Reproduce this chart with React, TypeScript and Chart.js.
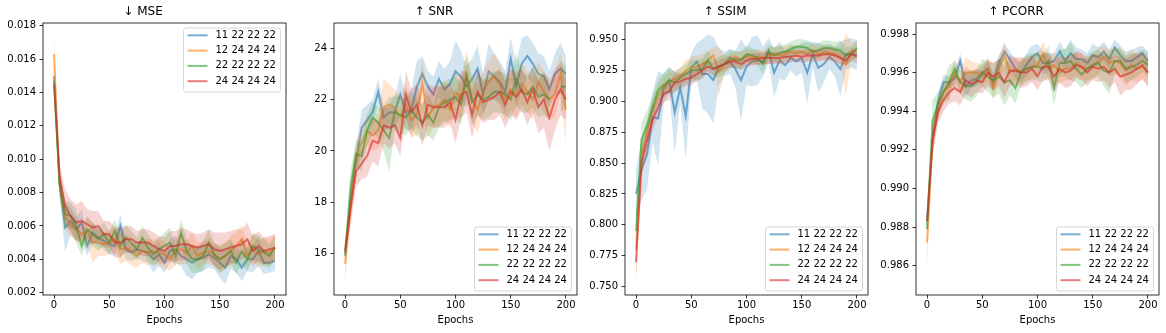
import React, { useEffect, useRef } from "react";
import { Chart, registerables } from "chart.js";
Chart.register(...registerables);

const EPOCHS = [0, 5, 10, 15, 20, 25, 30, 35, 40, 45, 50, 55, 60, 65, 70, 75, 80, 85, 90, 95, 100, 105, 110, 115, 120, 125, 130, 135, 140, 145, 150, 155, 160, 165, 170, 175, 180, 185, 190, 195, 200];
const LABELS = ["11 22 22 22", "12 24 24 24", "22 22 22 22", "24 24 24 24"];
const COLORS = ["31,119,180", "255,127,14", "44,160,44", "214,39,40"];
const X_TICKS = [0, 50, 100, 150, 200];

// ---------- MSE ----------
const MSE_TICKS = [0.002, 0.004, 0.006, 0.008, 0.010, 0.012, 0.014, 0.016, 0.018];
const MSE_A = [0.0150, 0.0085, 0.0059, 0.0063, 0.0058, 0.0062, 0.0048, 0.0056, 0.0053, 0.0051,
  0.0049, 0.0048, 0.0060, 0.0046, 0.0044, 0.0046, 0.0045, 0.0044, 0.0040, 0.0043,
  0.0038, 0.0045, 0.0046, 0.0042, 0.0040, 0.0038, 0.0040, 0.0041, 0.0043, 0.0041,
  0.0038, 0.0035, 0.0042, 0.0040, 0.0035, 0.0040, 0.0040, 0.0045, 0.0038, 0.0038, 0.0039];
const MSE_A_ERR = [0.0002, 0.0006, 0.0015, 0.0008, 0.0007, 0.0008, 0.0006, 0.0006, 0.0005, 0.0005,
  0.0006, 0.0006, 0.0007, 0.0006, 0.0005, 0.0005, 0.0006, 0.0006, 0.0008, 0.0007,
  0.0006, 0.0007, 0.0008, 0.0006, 0.0010, 0.0010, 0.0008, 0.0008, 0.0008, 0.0007,
  0.0009, 0.0010, 0.0008, 0.0008, 0.0008, 0.0007, 0.0008, 0.0009, 0.0007, 0.0006, 0.0006];
const MSE_B = [0.0163, 0.0085, 0.0066, 0.0060, 0.0058, 0.0055, 0.0057, 0.0050, 0.0050, 0.0049,
  0.0050, 0.0052, 0.0046, 0.0047, 0.0045, 0.0042, 0.0045, 0.0044, 0.0045, 0.0044,
  0.0043, 0.0040, 0.0045, 0.0046, 0.0044, 0.0048, 0.0042, 0.0044, 0.0045, 0.0043,
  0.0040, 0.0042, 0.0045, 0.0048, 0.0052, 0.0042, 0.0047, 0.0043, 0.0045, 0.0044, 0.0047];
const MSE_B_ERR = [0.0011, 0.0008, 0.0007, 0.0007, 0.0006, 0.0007, 0.0008, 0.0012, 0.0008, 0.0007,
  0.0007, 0.0008, 0.0009, 0.0008, 0.0009, 0.0007, 0.0007, 0.0008, 0.0007, 0.0008,
  0.0008, 0.0007, 0.0008, 0.0009, 0.0007, 0.0008, 0.0008, 0.0007, 0.0008, 0.0007,
  0.0008, 0.0008, 0.0009, 0.0008, 0.0009, 0.0007, 0.0008, 0.0008, 0.0008, 0.0008, 0.0008];
const MSE_C = [0.0147, 0.0085, 0.0067, 0.0066, 0.0060, 0.0048, 0.0058, 0.0055, 0.0052, 0.0055,
  0.0050, 0.0057, 0.0048, 0.0053, 0.0050, 0.0046, 0.0053, 0.0047, 0.0043, 0.0046,
  0.0048, 0.0050, 0.0042, 0.0056, 0.0045, 0.0040, 0.0040, 0.0042, 0.0050, 0.0043,
  0.0040, 0.0042, 0.0045, 0.0038, 0.0045, 0.0040, 0.0048, 0.0046, 0.0044, 0.0042, 0.0047];
const MSE_C_ERR = [0.0003, 0.0007, 0.0008, 0.0008, 0.0010, 0.0006, 0.0008, 0.0007, 0.0007, 0.0007,
  0.0007, 0.0007, 0.0007, 0.0008, 0.0007, 0.0007, 0.0007, 0.0008, 0.0007, 0.0007,
  0.0008, 0.0009, 0.0006, 0.0008, 0.0008, 0.0008, 0.0008, 0.0009, 0.0008, 0.0007,
  0.0008, 0.0008, 0.0007, 0.0007, 0.0008, 0.0007, 0.0008, 0.0008, 0.0008, 0.0007, 0.0007];
const MSE_D = [0.0145, 0.0090, 0.0072, 0.0066, 0.0062, 0.0063, 0.0061, 0.0059, 0.0060, 0.0055,
  0.0055, 0.0050, 0.0050, 0.0052, 0.0052, 0.0050, 0.0050, 0.0050, 0.0048, 0.0046,
  0.0045, 0.0048, 0.0048, 0.0049, 0.0049, 0.0048, 0.0047, 0.0048, 0.0049, 0.0046,
  0.0045, 0.0046, 0.0047, 0.0048, 0.0049, 0.0052, 0.0045, 0.0048, 0.0045, 0.0046, 0.0047];
const MSE_D_ERR = [0.0003, 0.0008, 0.0010, 0.0010, 0.0011, 0.0012, 0.0009, 0.0010, 0.0009, 0.0008,
  0.0008, 0.0009, 0.0009, 0.0008, 0.0008, 0.0007, 0.0008, 0.0008, 0.0008, 0.0008,
  0.0008, 0.0009, 0.0009, 0.0010, 0.0009, 0.0008, 0.0008, 0.0008, 0.0009, 0.0010,
  0.0011, 0.0010, 0.0010, 0.0010, 0.0009, 0.0010, 0.0009, 0.0009, 0.0008, 0.0008, 0.0008];

// ---------- SNR ----------
const SNR_TICKS = [16, 18, 20, 22, 24];
const SNR_A = [15.9, 18.0, 19.6, 20.9, 21.2, 21.5, 22.3, 21.3, 21.5, 21.5,
  22.2, 21.5, 21.6, 22.5, 23.0, 22.5, 22.2, 22.8, 22.4, 22.6,
  23.1, 22.9, 22.5, 22.8, 23.2, 22.2, 23.1, 22.9, 22.7, 22.3,
  23.6, 22.5, 23.4, 23.7, 23.4, 23.0, 22.9, 22.4, 23.0, 23.2, 23.0];
const SNR_A_ERR = [0.3, 0.6, 0.6, 0.7, 0.6, 0.5, 0.5, 0.5, 0.6, 0.6,
  0.8, 0.7, 0.8, 1.0, 0.7, 0.6, 0.7, 0.7, 0.8, 0.9,
  1.2, 1.0, 0.8, 0.8, 0.9, 0.8, 1.1, 0.9, 0.8, 0.8,
  0.8, 0.9, 1.0, 0.8, 0.8, 0.8, 0.8, 0.7, 0.8, 1.0, 0.7];
const SNR_B = [15.6, 17.8, 19.8, 20.3, 20.8, 20.6, 20.8, 21.7, 21.8, 21.7,
  21.3, 21.8, 21.2, 21.4, 22.6, 21.3, 21.7, 21.8, 22.0, 21.6,
  22.3, 22.0, 23.0, 22.0, 21.6, 22.3, 22.7, 22.9, 22.6, 22.0,
  22.4, 22.2, 22.6, 22.3, 22.0, 22.7, 22.3, 22.0, 22.2, 23.0, 21.6];
const SNR_B_ERR = [0.7, 0.6, 0.6, 0.6, 0.6, 0.6, 0.7, 1.1, 0.8, 0.7,
  0.8, 0.8, 0.7, 0.8, 1.0, 0.8, 0.8, 0.8, 0.8, 0.7,
  0.8, 0.8, 0.9, 0.9, 0.9, 0.8, 0.8, 0.9, 0.8, 0.8,
  0.8, 0.9, 0.8, 0.8, 0.8, 0.8, 0.8, 0.8, 0.9, 0.8, 1.3];
const SNR_C = [16.0, 18.6, 19.9, 19.8, 20.8, 21.3, 21.1, 20.8, 20.5, 21.5,
  21.4, 21.3, 21.6, 21.3, 21.1, 21.4, 21.1, 21.7, 21.9, 22.0,
  22.1, 21.8, 22.9, 21.9, 22.2, 22.0, 22.1, 22.3, 22.3, 22.2,
  22.0, 22.8, 22.3, 22.2, 22.5, 22.1, 22.2, 22.0, null, 22.5, 22.5];
const SNR_C_ERR = [0.2, 0.7, 0.5, 0.6, 0.6, 0.6, 0.6, 0.8, 1.3, 0.7,
  0.7, 0.7, 0.7, 0.7, 0.7, 0.8, 0.7, 0.8, 0.8, 0.8,
  0.8, 0.8, 0.8, 0.9, 0.8, 0.8, 0.8, 0.8, 0.8, 0.8,
  0.8, 1.0, 0.8, 0.7, 0.8, 0.8, 0.8, 0.8, null, 1.0, 0.8];
const SNR_D = [16.1, 17.8, 19.2, 19.5, 19.8, 20.4, 20.3, 21.0, 20.9, 21.0,
  20.5, 22.2, 21.5, 21.8, 21.0, 21.8, 21.7, 21.7, 21.7, 21.9,
  21.2, 22.2, 22.3, 21.4, 22.3, 21.9, 22.0, 22.1, 22.3, 21.8,
  22.3, 22.1, 22.4, 21.9, 22.4, 21.7, 22.0, 21.3, 22.0, 22.4, 22.0];
const SNR_D_ERR = [0.2, 0.7, 0.6, 0.6, 0.8, 0.8, 0.9, 0.7, 0.8, 0.7,
  0.7, 0.9, 0.9, 0.8, 0.8, 0.8, 0.8, 0.8, 0.8, 0.8,
  0.9, 0.9, 0.8, 0.9, 0.9, 0.8, 0.8, 0.9, 0.9, 0.9,
  0.9, 0.9, 0.8, 0.9, 0.9, 1.0, 1.1, 1.3, 1.2, 1.0, 0.8];

// ---------- SSIM ----------
const SSIM_TICKS = [0.750, 0.775, 0.800, 0.825, 0.850, 0.875, 0.900, 0.925, 0.950];
const SSIM_A = [0.825, 0.845, 0.857, 0.887, 0.886, 0.910, 0.917, 0.891, 0.911, 0.888,
  0.927, 0.932, 0.922, 0.922, 0.917, 0.928, 0.930, 0.932, 0.926, 0.917,
  0.928, 0.932, 0.933, 0.932, 0.941, 0.923, 0.933, 0.929, 0.935, 0.932,
  0.935, 0.923, 0.938, 0.927, 0.930, 0.936, 0.932, 0.926, 0.938, 0.939, 0.937];
const SSIM_A_ERR = [0.020, 0.025, 0.028, 0.020, 0.038, 0.012, 0.010, 0.033, 0.012, 0.035,
  0.012, 0.015, 0.028, 0.032, 0.035, 0.015, 0.010, 0.010, 0.015, 0.033,
  0.015, 0.020, 0.020, 0.012, 0.010, 0.020, 0.015, 0.012, 0.010, 0.012,
  0.012, 0.025, 0.010, 0.020, 0.015, 0.010, 0.012, 0.022, 0.012, 0.012, 0.012];
const SSIM_B = [0.780, 0.855, 0.875, 0.893, 0.905, 0.912, 0.915, 0.918, 0.920, 0.925,
  0.927, 0.928, 0.930, 0.933, 0.937, 0.924, 0.930, 0.932, 0.935, 0.934,
  0.936, 0.935, 0.936, 0.935, 0.937, 0.938, 0.937, 0.938, 0.940, 0.939,
  0.940, 0.938, 0.941, 0.938, 0.940, 0.939, 0.938, 0.936, 0.930, 0.940, 0.941];
const SSIM_B_ERR = [0.025, 0.012, 0.010, 0.008, 0.008, 0.008, 0.008, 0.007, 0.007, 0.008,
  0.009, 0.009, 0.008, 0.007, 0.007, 0.020, 0.007, 0.006, 0.006, 0.006,
  0.006, 0.006, 0.006, 0.006, 0.006, 0.006, 0.007, 0.006, 0.006, 0.006,
  0.006, 0.006, 0.006, 0.006, 0.006, 0.006, 0.006, 0.007, 0.025, 0.007, 0.007];
const SSIM_C = [0.795, 0.869, 0.880, 0.895, 0.909, 0.913, 0.917, 0.915, 0.919, 0.922,
  0.925, 0.925, 0.926, 0.933, 0.926, 0.928, 0.930, 0.935, 0.933, 0.933,
  0.938, 0.937, 0.935, 0.930, 0.940, 0.937, 0.939, 0.940, 0.942, 0.944,
  0.944, 0.943, 0.940, 0.941, 0.943, 0.943, 0.942, 0.941, 0.937, 0.938, 0.943];
const SSIM_C_ERR = [0.010, 0.014, 0.012, 0.010, 0.009, 0.010, 0.011, 0.008, 0.008, 0.008,
  0.008, 0.008, 0.008, 0.008, 0.007, 0.008, 0.008, 0.007, 0.007, 0.007,
  0.007, 0.006, 0.006, 0.008, 0.006, 0.006, 0.006, 0.006, 0.006, 0.006,
  0.006, 0.006, 0.006, 0.006, 0.006, 0.006, 0.006, 0.008, 0.007, 0.006, 0.006];
const SSIM_D = [0.770, 0.850, 0.868, 0.885, 0.895, 0.906, 0.908, 0.915, 0.916, 0.918,
  0.919, 0.922, 0.925, 0.928, 0.926, 0.928, 0.930, 0.932, 0.932, 0.930,
  0.933, 0.934, 0.934, 0.935, 0.935, 0.935, 0.935, 0.936, 0.936, 0.937,
  0.936, 0.937, 0.937, 0.937, 0.938, 0.938, 0.937, 0.935, 0.933, 0.938, 0.936];
const SSIM_D_ERR = [0.012, 0.010, 0.009, 0.009, 0.008, 0.007, 0.007, 0.007, 0.006, 0.006,
  0.006, 0.006, 0.006, 0.005, 0.005, 0.005, 0.005, 0.005, 0.005, 0.005,
  0.005, 0.005, 0.005, 0.005, 0.005, 0.005, 0.005, 0.005, 0.005, 0.005,
  0.005, 0.005, 0.005, 0.005, 0.005, 0.005, 0.005, 0.005, 0.005, 0.005, 0.006];

// ---------- PCORR ----------
const PCORR_TICKS = [0.986, 0.988, 0.990, 0.992, 0.994, 0.996, 0.998];
const PCORR_A = [0.9883, 0.9925, 0.9945, 0.9955, 0.9955, 0.9957, 0.9966, 0.9953, 0.9956, 0.9957,
  0.9960, 0.9962, 0.9955, 0.9965, 0.9971, 0.9967, 0.9962, 0.9960, 0.9964, 0.9968,
  0.9970, 0.9965, 0.9965, 0.9966, 0.9971, 0.9966, 0.9970, 0.9967, 0.9967, 0.9965,
  0.9969, 0.9968, 0.9971, 0.9967, 0.9973, 0.9969, 0.9966, 0.9966, 0.9968, 0.9970, 0.9966];
const PCORR_A_ERR = [0.0002, 0.0006, 0.0005, 0.0004, 0.0003, 0.0004, 0.0004, 0.0006, 0.0004, 0.0004,
  0.0004, 0.0004, 0.0005, 0.0004, 0.0004, 0.0004, 0.0005, 0.0005, 0.0006, 0.0006,
  0.0005, 0.0006, 0.0005, 0.0004, 0.0005, 0.0006, 0.0007, 0.0006, 0.0005, 0.0005,
  0.0006, 0.0005, 0.0005, 0.0005, 0.0004, 0.0005, 0.0005, 0.0006, 0.0005, 0.0004, 0.0005];
const PCORR_B = [0.9872, 0.9925, 0.9940, 0.9950, 0.9953, 0.9960, 0.9955, 0.9960, 0.9960, 0.9960,
  0.9958, 0.9962, 0.9952, 0.9962, 0.9969, 0.9960, 0.9962, 0.9960, 0.9962, 0.9963,
  0.9964, 0.9970, 0.9962, 0.9964, 0.9960, 0.9962, 0.9962, 0.9965, 0.9963, 0.9962,
  0.9963, 0.9966, 0.9968, 0.9965, 0.9966, 0.9965, 0.9961, 0.9964, 0.9962, 0.9963, 0.9960];
const PCORR_B_ERR = [0.0012, 0.0008, 0.0005, 0.0005, 0.0006, 0.0007, 0.0006, 0.0008, 0.0006, 0.0005,
  0.0006, 0.0006, 0.0006, 0.0006, 0.0007, 0.0006, 0.0006, 0.0006, 0.0006, 0.0006,
  0.0006, 0.0006, 0.0006, 0.0007, 0.0006, 0.0006, 0.0006, 0.0006, 0.0007, 0.0006,
  0.0006, 0.0007, 0.0006, 0.0007, 0.0007, 0.0008, 0.0008, 0.0008, 0.0007, 0.0007, 0.0007];
const PCORR_C = [0.9879, 0.9935, 0.9944, 0.9950, 0.9955, 0.9962, 0.9955, 0.9953, 0.9953, 0.9955,
  0.9960, 0.9958, 0.9956, 0.9958, 0.9955, 0.9956, 0.9952, 0.9960, 0.9962, 0.9963,
  0.9963, 0.9962, 0.9966, 0.9952, 0.9965, 0.9965, 0.9966, 0.9962, 0.9959, 0.9962,
  0.9964, 0.9965, 0.9961, 0.9960, 0.9966, 0.9966, 0.9962, 0.9963, 0.9964, 0.9966, 0.9964];
const PCORR_C_ERR = [0.0003, 0.0011, 0.0006, 0.0006, 0.0009, 0.0004, 0.0006, 0.0007, 0.0008, 0.0007,
  0.0007, 0.0008, 0.0009, 0.0009, 0.0012, 0.0008, 0.0008, 0.0007, 0.0007, 0.0007,
  0.0007, 0.0007, 0.0008, 0.0009, 0.0007, 0.0007, 0.0010, 0.0007, 0.0007, 0.0007,
  0.0007, 0.0007, 0.0008, 0.0011, 0.0007, 0.0006, 0.0007, 0.0007, 0.0006, 0.0006, 0.0006];
const PCORR_D = [0.9883, 0.9925, 0.9940, 0.9946, 0.9950, 0.9952, 0.9950, 0.9956, 0.9954, 0.9956,
  0.9955, 0.9960, 0.9958, 0.9960, 0.9955, 0.9961, 0.9961, 0.9960, 0.9960, 0.9962,
  0.9958, 0.9963, 0.9963, 0.9958, 0.9962, 0.9960, 0.9961, 0.9964, 0.9963, 0.9960,
  0.9963, 0.9962, 0.9963, 0.9960, 0.9962, 0.9958, 0.9959, 0.9960, 0.9962, 0.9964, 0.9960];
const PCORR_D_ERR = [0.0004, 0.0008, 0.0006, 0.0006, 0.0006, 0.0007, 0.0007, 0.0007, 0.0007, 0.0006,
  0.0006, 0.0007, 0.0007, 0.0007, 0.0008, 0.0008, 0.0007, 0.0008, 0.0007, 0.0007,
  0.0007, 0.0007, 0.0007, 0.0008, 0.0007, 0.0008, 0.0008, 0.0007, 0.0007, 0.0007,
  0.0007, 0.0007, 0.0007, 0.0008, 0.0007, 0.0010, 0.0008, 0.0009, 0.0008, 0.0007, 0.0007];

const FONT = "'DejaVu Sans', 'Liberation Sans', sans-serif";

type Panel = {
  title: string;
  means: (number | null)[][];
  errs: (number | null)[][];
  yMin: number;
  yMax: number;
  yTicks: number[];
  decimals: number;
  legend: "upper" | "lower";
  left: number;
};

const PANELS: Panel[] = [
  { title: "↓ MSE", means: [MSE_A, MSE_B, MSE_C, MSE_D], errs: [MSE_A_ERR, MSE_B_ERR, MSE_C_ERR, MSE_D_ERR],
    yMin: 0.00186, yMax: 0.01816, yTicks: MSE_TICKS, decimals: 3, legend: "upper", left: 43 },
  { title: "↑ SNR", means: [SNR_A, SNR_B, SNR_C, SNR_D], errs: [SNR_A_ERR, SNR_B_ERR, SNR_C_ERR, SNR_D_ERR],
    yMin: 14.39, yMax: 24.98, yTicks: SNR_TICKS, decimals: 0, legend: "lower", left: 334 },
  { title: "↑ SSIM", means: [SSIM_A, SSIM_B, SSIM_C, SSIM_D], errs: [SSIM_A_ERR, SSIM_B_ERR, SSIM_C_ERR, SSIM_D_ERR],
    yMin: 0.7433, yMax: 0.9632, yTicks: SSIM_TICKS, decimals: 3, legend: "lower", left: 625 },
  { title: "↑ PCORR", means: [PCORR_A, PCORR_B, PCORR_C, PCORR_D], errs: [PCORR_A_ERR, PCORR_B_ERR, PCORR_C_ERR, PCORR_D_ERR],
    yMin: 0.98448, yMax: 0.99857, yTicks: PCORR_TICKS, decimals: 3, legend: "lower", left: 916 },
];

const AXIS_W = 243;
const YAXIS_W = 43;
const RIGHT_PAD = 6;
const CANVAS_W = YAXIS_W + AXIS_W + RIGHT_PAD;
const CANVAS_H = 333;

function PanelChart({ panel }: { panel: Panel }) {
  const ref = useRef<HTMLCanvasElement>(null);
  useEffect(() => {
    if (!ref.current) return;
    const datasets: any[] = [];
    let drawIdx = 0;
    panel.means.forEach((m, s) => {
      const e = panel.errs[s];
      const c = COLORS[s];
      const upper = EPOCHS.map((x, i) => ({ x, y: m[i] == null || e[i] == null ? null : (m[i] as number) + (e[i] as number) }));
      const lower = EPOCHS.map((x, i) => ({ x, y: m[i] == null || e[i] == null ? null : (m[i] as number) - (e[i] as number) }));
      const mean = EPOCHS.map((x, i) => ({ x, y: m[i] }));
      datasets.push({ data: upper, borderColor: "rgba(0,0,0,0)", borderWidth: 0, pointRadius: 0,
        fill: "+1", backgroundColor: `rgba(${c},0.2)`, order: 100 - drawIdx, spanGaps: false });
      datasets.push({ data: lower, borderColor: "rgba(0,0,0,0)", borderWidth: 0, pointRadius: 0,
        fill: false, order: 100 - drawIdx, spanGaps: false });
      drawIdx++;
      datasets.push({ data: mean, borderColor: `rgba(${c},0.6)`, borderWidth: 2, pointRadius: 0,
        fill: false, order: 100 - drawIdx, spanGaps: false, tension: 0 });
      drawIdx++;
    });

    const framePlugin = {
      id: "frameLegend",
      afterDraw(chart: any) {
        const { ctx, chartArea } = chart;
        ctx.save();
        ctx.strokeStyle = "#000";
        ctx.lineWidth = 0.8;
        ctx.strokeRect(chartArea.left, chartArea.top, chartArea.right - chartArea.left, chartArea.bottom - chartArea.top);
        // legend
        const w = 97, h = 64;
        const bx = chartArea.right - 5.5 - w;
        const by = panel.legend === "upper" ? chartArea.top + 5 : chartArea.bottom - 4 - h;
        ctx.beginPath();
        const r = 2.5;
        ctx.moveTo(bx + r, by);
        ctx.lineTo(bx + w - r, by);
        ctx.quadraticCurveTo(bx + w, by, bx + w, by + r);
        ctx.lineTo(bx + w, by + h - r);
        ctx.quadraticCurveTo(bx + w, by + h, bx + w - r, by + h);
        ctx.lineTo(bx + r, by + h);
        ctx.quadraticCurveTo(bx, by + h, bx, by + h - r);
        ctx.lineTo(bx, by + r);
        ctx.quadraticCurveTo(bx, by, bx + r, by);
        ctx.closePath();
        ctx.fillStyle = "rgba(255,255,255,0.8)";
        ctx.fill();
        ctx.strokeStyle = "rgba(204,204,204,0.8)";
        ctx.lineWidth = 1;
        ctx.stroke();
        ctx.font = `10px ${FONT}`;
        ctx.textBaseline = "middle";
        ctx.textAlign = "left";
        LABELS.forEach((lab, i) => {
          const y = by + 7.3 + i * 15.3;
          ctx.beginPath();
          ctx.strokeStyle = `rgba(${COLORS[i]},0.6)`;
          ctx.lineWidth = 2;
          ctx.moveTo(bx + 4, y);
          ctx.lineTo(bx + 24, y);
          ctx.stroke();
          ctx.fillStyle = "#000";
          ctx.fillText(lab, bx + 32, y);
        });
        ctx.restore();
      },
    };

    const tickFont = { family: FONT, size: 10 };
    const gridOpts = { display: true, drawOnChartArea: false, drawTicks: true, tickLength: 3.5, color: "#000", lineWidth: 0.8 };

    const chart = new Chart(ref.current, {
      type: "line",
      data: { datasets },
      plugins: [framePlugin],
      options: {
        animation: false,
        responsive: false,
        devicePixelRatio: 1,
        events: [],
        layout: { padding: { left: 0, right: RIGHT_PAD, top: 0, bottom: 0 } },
        plugins: {
          legend: { display: false },
          tooltip: { enabled: false },
          title: {
            display: true,
            text: panel.title,
            color: "#000",
            font: { family: FONT, size: 12, weight: "normal" },
            padding: { top: 5, bottom: 3.6 },
          },
        },
        scales: {
          x: {
            type: "linear",
            min: -10,
            max: 210,
            afterBuildTicks: (s: any) => { s.ticks = X_TICKS.map((v) => ({ value: v })); },
            afterFit: (s: any) => { s.height = 38; },
            grid: gridOpts,
            border: { display: false },
            ticks: { font: tickFont, color: "#000", padding: 1, maxRotation: 0, autoSkip: false,
              callback: (v: any) => String(v) },
            title: { display: true, text: "Epochs", color: "#000", font: tickFont, padding: { top: 0, bottom: 7 } },
          },
          y: {
            type: "linear",
            min: panel.yMin,
            max: panel.yMax,
            afterBuildTicks: (s: any) => { s.ticks = panel.yTicks.map((v) => ({ value: v })); },
            afterFit: (s: any) => { s.width = YAXIS_W; },
            grid: gridOpts,
            border: { display: false },
            ticks: { font: tickFont, color: "#000", padding: 3.5, autoSkip: false,
              callback: (v: any) => Number(v).toFixed(panel.decimals) },
          },
        },
      } as any,
    });
    return () => chart.destroy();
  }, [panel]);

  return (
    <canvas
      ref={ref}
      width={CANVAS_W}
      height={CANVAS_H}
      style={{ position: "absolute", left: panel.left - YAXIS_W, top: 0, width: CANVAS_W, height: CANVAS_H }}
    />
  );
}

export default function App() {
  return (
    <div style={{ position: "absolute", left: 0, top: 0, width: 1166, height: 333, background: "#fff" }}>
      {PANELS.map((p) => (
        <PanelChart key={p.title} panel={p} />
      ))}
    </div>
  );
}
